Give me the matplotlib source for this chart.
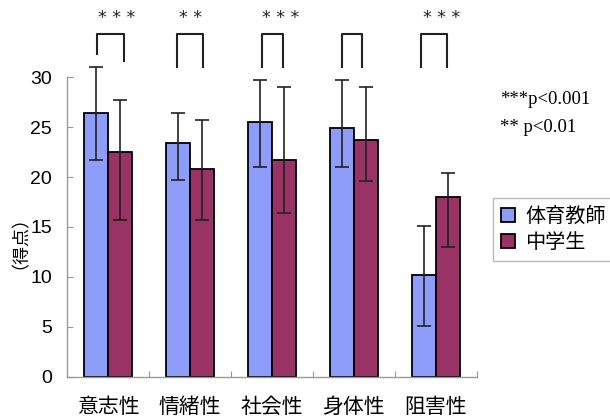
import numpy as np
import matplotlib
matplotlib.use("Agg")
import matplotlib.pyplot as plt
from matplotlib.patches import Patch

plt.rcParams['font.family'] = ['Noto Sans CJK JP', 'DejaVu Sans']

# data
categories = ["意志性", "情緒性", "社会性", "身体性", "阻害性"]
series = ["体育教師", "中学生"]
teacher = [26.4, 23.4, 25.5, 24.9, 10.2]
student = [22.5, 20.8, 21.7, 23.7, 18.0]
# error bar ends (low, high)
teacher_lo = [21.7, 19.7, 21.0, 21.0, 5.1]
teacher_hi = [31.0, 26.4, 29.7, 29.7, 15.1]
student_lo = [15.7, 15.7, 16.4, 19.6, 13.0]
student_hi = [27.7, 25.7, 29.0, 29.0, 20.4]
stars = ["* * *", "* *", "* * *", "", "* * *"]
yticks = [0, 5, 10, 15, 20, 25, 30]

blue = "#8E9CFA"
maroon = "#993366"

fig = plt.figure(figsize=(6.1, 4.2), dpi=100)
ax = fig.add_axes([0.1103, 0.1031, 0.6712, 0.7129])

x = np.arange(len(categories))
w = 0.29
t = np.array(teacher)
s = np.array(student)
t_err = [t - np.array(teacher_lo), np.array(teacher_hi) - t]
s_err = [s - np.array(student_lo), np.array(student_hi) - s]

ax.bar(x - w / 2, t, w, color=blue, edgecolor="black", linewidth=1.3, zorder=2)
ax.bar(x + w / 2, s, w, color=maroon, edgecolor="black", linewidth=1.3, zorder=2)
for xs, ys, err in [(x - w / 2, t, t_err), (x + w / 2, s, s_err)]:
    eb = ax.errorbar(xs, ys, yerr=err, fmt="none", ecolor="#222222",
                     elinewidth=1.2, capsize=5, capthick=1.2, zorder=3)
    for part in eb.get_children():
        part.set_clip_on(False)

ax.set_xlim(-0.5, 4.5)
ax.set_ylim(0, 30)
for side in ["top", "right"]:
    ax.spines[side].set_visible(False)
for side in ["left", "bottom"]:
    ax.spines[side].set_color("#999999")
    ax.spines[side].set_linewidth(1.0)

ax.set_yticks(yticks)
ax.set_yticklabels([str(v) for v in yticks], fontsize=14, family="Liberation Sans")
ax.tick_params(axis="y", direction="in", length=4, color="#999999", pad=11)

ax.set_xticks(np.arange(0.5, 5, 1.0))
ax.set_xticklabels([])
ax.set_xticks(x, minor=True)
ax.set_xticklabels(categories, minor=True, fontsize=15)
ax.tick_params(axis="x", which="major", direction="in", length=4, color="#999999")
ax.tick_params(axis="x", which="minor", length=0, pad=14)

ax.set_ylabel("（得点）", fontsize=13)
ax.yaxis.set_label_coords(-0.115, 0.48)

# significance brackets
left_off = [-0.136, -0.161, -0.125, -0.143, -0.18]
right_off = [0.188, 0.156, 0.132, 0.094, 0.14]
left_bot = [32.3, 31.0, 31.0, 31.0, 31.0]
right_bot = [31.6, 31.0, 31.0, 31.0, 31.0]
star_off = [0.1, 0.0, 0.11, 0.0, 0.075]
for i in range(len(categories)):
    xl = x[i] + left_off[i]
    xr = x[i] + right_off[i]
    ax.plot([xl, xl, xr, xr], [left_bot[i], 34.3, 34.3, right_bot[i]],
            color="#222222", lw=1.5, clip_on=False)
    if stars[i]:
        ax.text(x[i] + star_off[i], 35.95, stars[i], ha="center", va="center",
                fontsize=12.5, family="DejaVu Sans", color="#222222")

fig.text(500 / 610, 1 - 100 / 420, "***p<0.001", fontsize=13.5,
         family="Liberation Serif", va="center", ha="left")
fig.text(500 / 610, 1 - 128 / 420, "** p<0.01", fontsize=13.5,
         family="Liberation Serif", va="center", ha="left")

handles = [Patch(facecolor=blue, edgecolor="black", linewidth=1.3),
           Patch(facecolor=maroon, edgecolor="black", linewidth=1.3)]
fig.legend(handles, series, loc="upper left",
           bbox_to_anchor=(493 / 610, 1 - 198 / 420), fontsize=14.5,
           frameon=True, fancybox=False, edgecolor="#aaaaaa",
           handlelength=0.7, handleheight=0.7, handletextpad=0.5,
           labelspacing=0.25, borderpad=0.4, borderaxespad=0)

fig.savefig("out.png", dpi=100)
